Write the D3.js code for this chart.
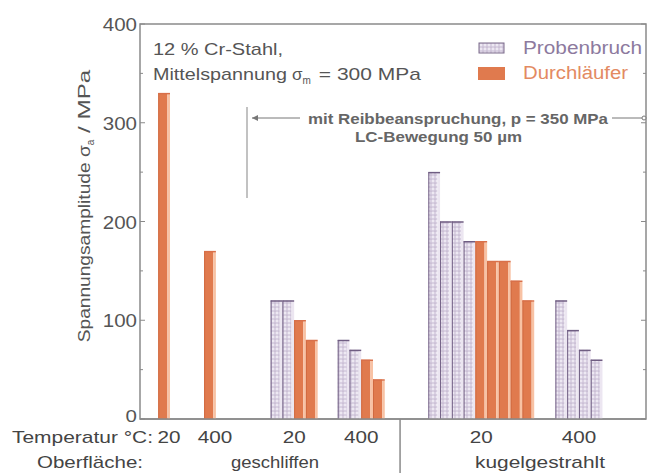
<!DOCTYPE html>
<html>
<head>
<meta charset="utf-8">
<script src="https://cdn.jsdelivr.net/npm/d3@7"></script>
<style>
  body { margin: 0; background: #fff; }
  text { font-family: "Liberation Sans", Arial, Helvetica, sans-serif; }
</style>
</head>
<body>
<div class="chart"></div>
<script>
// groups: temperature label, surface, slot position of the group centre
var temps    = ["20", "400", "20", "400", "20", "400"];
var surfaces = ["geschliffen", "kugelgestrahlt"];
var slots    = [2.05, 5.95, 13.1, 18.8, 29.0, 37.3];
// bar values per group, "P" = Probenbruch, "D" = Durchläufer
var barTypes = [
    ["D"],
    ["D"],
    ["P", "P", "D", "D"],
    ["P", "P", "D", "D"],
    ["P", "P", "P", "P", "D", "D", "D", "D", "D"],
    ["P", "P", "P", "P"]
];
var barValues = [
    [330],
    [170],
    [120, 120, 100, 80],
    [80, 70, 60, 40],
    [250, 200, 200, 180, 180, 160, 160, 140, 120],
    [120, 90, 70, 60]
];
var yTicks = [0, 100, 200, 300, 400];

var width = 647, height = 473;
var margin = {left: 140, right: 1, top: 24, bottom: 54};

var svg = d3.select(".chart")
    .append("svg")
    .attr("width", width)
    .attr("height", height);

// stretch a text element to a measured width
function fit(sel, w) {
    return sel.attr("textLength", w).attr("lengthAdjust", "spacingAndGlyphs");
}

var defs = svg.append("defs");
var pat = defs.append("pattern")
    .attr("id", "dots")
    .attr("patternUnits", "userSpaceOnUse")
    .attr("width", 4)
    .attr("height", 4);
pat.append("rect").attr("width", 4).attr("height", 4).attr("fill", "#d9d0e2");
pat.append("circle").attr("cx", 1).attr("cy", 1).attr("r", 0.9).attr("fill", "#f7f4fa");
pat.append("circle").attr("cx", 3).attr("cy", 3).attr("r", 0.6).attr("fill", "#a898b8");

var x = d3.scaleLinear().domain([0, 43]).range([margin.left, width - margin.right]);
var y = d3.scaleLinear().domain([0, 400]).range([height - margin.bottom, margin.top]);

var grey = "#8a8a8a", textCol = "#555";

// frame
svg.append("rect")
    .attr("x", x(0)).attr("y", y(400))
    .attr("width", x(43) - x(0)).attr("height", y(0) - y(400))
    .attr("fill", "none").attr("stroke", grey).attr("stroke-width", 1.5);

// ticks (inside, both sides)
var minor = d3.range(0, 401, 50);
svg.selectAll(".tl").data(minor).enter().append("line")
    .attr("x1", x(0)).attr("x2", function(d) { return x(0) + (d % 100 ? 3 : 5); })
    .attr("y1", function(d) { return y(d); }).attr("y2", function(d) { return y(d); })
    .attr("stroke", grey);
svg.selectAll(".tr").data(minor).enter().append("line")
    .attr("x1", x(43)).attr("x2", function(d) { return x(43) - (d % 100 ? 3 : 5); })
    .attr("y1", function(d) { return y(d); }).attr("y2", function(d) { return y(d); })
    .attr("stroke", grey);

svg.selectAll(".yl").data(yTicks).enter().append("text")
    .attr("x", x(0) - 3)
    .attr("y", function(d) { return d === 0 ? y(d) + 3 : y(d) + 7; })
    .attr("text-anchor", "end")
    .attr("font-size", function(d) { return d === 0 ? 16 : 19; })
    .attr("fill", textCol)
    .attr("textLength", function(d) { return String(d).length * 11.4; })
    .attr("lengthAdjust", "spacingAndGlyphs")
    .text(function(d) { return d; });

// y label
var yl = svg.append("text")
    .attr("transform", "translate(90,206) rotate(-90)")
    .attr("text-anchor", "middle")
    .attr("font-size", 17)
    .attr("fill", textCol);
fit(yl.append("tspan"), 197).text("Spannungsamplitude σ");
yl.append("tspan").attr("font-size", 10).attr("dy", 4).text("a");
fit(yl.append("tspan").attr("dy", -4), 70).text("  /  MPa");

// bars
var flat = [];
barValues.forEach(function(vals, gi) {
    var n = vals.length;
    vals.forEach(function(v, i) {
        flat.push({u: slots[gi] - n / 2 + i, value: v, type: barTypes[gi][i]});
    });
});

var bar = svg.selectAll(".bar").data(flat).enter().append("g").attr("class", "bar");
bar.append("rect")
    .attr("x", function(d) { return x(d.u); })
    .attr("y", function(d) { return y(d.value); })
    .attr("width", function(d) { return x(d.u + 0.78) - x(d.u); })
    .attr("height", function(d) { return y(0) - y(d.value); })
    .attr("fill", function(d) { return d.type === "P" ? "url(#dots)" : "#e07a4e"; });
bar.append("rect")
    .attr("x", function(d) { return x(d.u + 0.78); })
    .attr("y", function(d) { return y(d.value) + 1; })
    .attr("width", function(d) { return x(d.u + 1) - x(d.u + 0.78); })
    .attr("height", function(d) { return y(0) - y(d.value) - 1; })
    .attr("fill", function(d) { return d.type === "P" ? "#ece6f1" : "#f8c2a4"; });
bar.append("line")
    .attr("x1", function(d) { return x(d.u) + 0.5; })
    .attr("x2", function(d) { return x(d.u) + 0.5; })
    .attr("y1", function(d) { return y(d.value); })
    .attr("y2", y(0))
    .attr("stroke", function(d) { return d.type === "P" ? "#6f5d82" : "#d06a40"; })
    .attr("stroke-width", 1);
bar.append("line")
    .attr("x1", function(d) { return x(d.u); })
    .attr("x2", function(d) { return x(d.u + 1); })
    .attr("y1", function(d) { return y(d.value) + 0.5; })
    .attr("y2", function(d) { return y(d.value) + 0.5; })
    .attr("stroke", function(d) { return d.type === "P" ? "#6f5d82" : "#d8704a"; })
    .attr("stroke-width", 1.5);

// x axis base line redraw
svg.append("line")
    .attr("x1", x(0)).attr("x2", x(43)).attr("y1", y(0)).attr("y2", y(0))
    .attr("stroke", grey).attr("stroke-width", 1.5);

// bottom labels
fit(svg.append("text").attr("x", 12).attr("y", 443)
    .attr("font-size", 17).attr("fill", "#444"), 141).text("Temperatur °C:");
fit(svg.append("text").attr("x", 37).attr("y", 468)
    .attr("font-size", 17).attr("fill", "#444"), 106).text("Oberfläche:");
svg.selectAll(".tt").data(temps).enter().append("text")
    .attr("x", function(d, i) { return x(slots[i]) + (i < 2 ? 5 : 0); })
    .attr("y", 443)
    .attr("text-anchor", "middle")
    .attr("font-size", 17).attr("fill", "#444")
    .attr("textLength", function(d) { return d.length * 11.5; })
    .attr("lengthAdjust", "spacingAndGlyphs")
    .text(function(d) { return d; });
svg.selectAll(".sf").data(surfaces).enter().append("text")
    .attr("x", function(d, i) { return i === 0 ? 275 : 540; })
    .attr("y", 468)
    .attr("text-anchor", "middle")
    .attr("font-size", 17).attr("fill", "#444")
    .attr("textLength", function(d, i) { return i === 0 ? 88 : 130; })
    .attr("lengthAdjust", "spacingAndGlyphs")
    .text(function(d) { return d; });
svg.append("line")
    .attr("x1", x(22.1)).attr("x2", x(22.1))
    .attr("y1", y(0)).attr("y2", height)
    .attr("stroke", grey).attr("stroke-width", 1.5);

// info text
fit(svg.append("text").attr("x", 153).attr("y", 55)
    .attr("font-size", 17).attr("fill", textCol), 130).text("12 % Cr-Stahl,");
var t2 = svg.append("text").attr("x", 153).attr("y", 80)
    .attr("font-size", 17).attr("fill", textCol);
fit(t2.append("tspan"), 134).text("Mittelspannung");
t2.append("tspan").attr("dx", 5).text("σ");
t2.append("tspan").attr("font-size", 10).attr("dy", 4).text("m");
fit(t2.append("tspan").attr("dy", -4).attr("dx", 8), 102).text("= 300 MPa");

// annotation
svg.append("line").attr("x1", 247).attr("x2", 247).attr("y1", 107).attr("y2", 198)
    .attr("stroke", "#999").attr("stroke-width", 1.2);
svg.append("line").attr("x1", 252).attr("x2", 300).attr("y1", 118).attr("y2", 118)
    .attr("stroke", "#777").attr("stroke-width", 1);
svg.append("path").attr("d", "M252,118 l6,-3 l0,6 z").attr("fill", "#777");
fit(svg.append("text").attr("x", 308).attr("y", 124)
    .attr("font-size", 14).attr("font-weight", "bold")
    .attr("fill", "#666"), 300).text("mit Reibbeanspruchung, p = 350 MPa");
fit(svg.append("text").attr("x", 355).attr("y", 142)
    .attr("font-size", 14).attr("font-weight", "bold")
    .attr("fill", "#666"), 167).text("LC-Bewegung 50 µm");
svg.append("line").attr("x1", 612).attr("x2", 642).attr("y1", 118).attr("y2", 118)
    .attr("stroke", "#777").attr("stroke-width", 1);
svg.append("circle").attr("cx", 644).attr("cy", 118).attr("r", 2)
    .attr("fill", "#fff").attr("stroke", "#777");

// legend
svg.append("rect").attr("x", 479).attr("y", 43).attr("width", 25).attr("height", 10)
    .attr("fill", "url(#dots)").attr("stroke", "#7a6a8a");
fit(svg.append("text").attr("x", 523).attr("y", 54)
    .attr("font-size", 18).attr("fill", "#8d7a9e"), 119).text("Probenbruch");
svg.append("rect").attr("x", 478).attr("y", 67).attr("width", 27).attr("height", 13)
    .attr("fill", "#e07a4e");
fit(svg.append("text").attr("x", 523).attr("y", 79)
    .attr("font-size", 18).attr("fill", "#e38a62"), 105).text("Durchläufer");
</script>
</body>
</html>
